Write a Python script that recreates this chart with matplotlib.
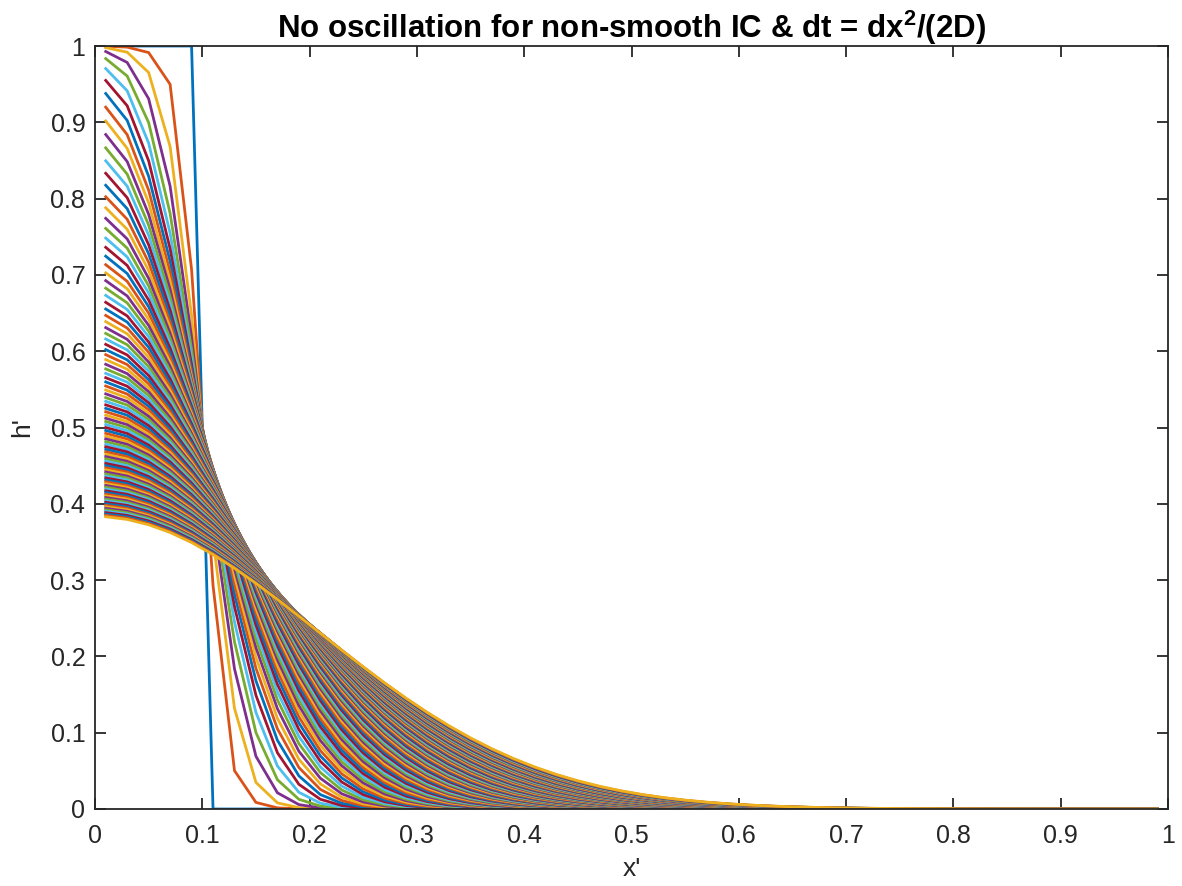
import numpy as np
import matplotlib
matplotlib.use("Agg")
import matplotlib.pyplot as plt

# ---- data ----
x_grid = [0.01 + 0.02 * i for i in range(50)]          # nodes at 0.01, 0.03, ..., 0.99
h_initial = [1, 1, 1, 1, 1] + [0] * 45                  # step IC: 1 for x' < 0.1, 0 beyond
r_ratio = 0.5                                           # D dt / dx^2  (dt = dx^2/(2D))
n_steps = 100                                           # time steps shown (101 curves)
title_text = "No oscillation for non-smooth IC & dt = dx$^{\\mathbf{2}}$/(2D)"
x_ticks = [0, 0.1, 0.2, 0.3, 0.4, 0.5, 0.6, 0.7, 0.8, 0.9, 1]
y_ticks = [0, 0.1, 0.2, 0.3, 0.4, 0.5, 0.6, 0.7, 0.8, 0.9, 1]
tick_labels = ["0", "0.1", "0.2", "0.3", "0.4", "0.5", "0.6", "0.7", "0.8", "0.9", "1"]

colors = [(0, 0.447, 0.741), (0.85, 0.325, 0.098), (0.929, 0.694, 0.125),
          (0.494, 0.184, 0.556), (0.466, 0.674, 0.188), (0.301, 0.745, 0.933),
          (0.635, 0.078, 0.184)]

# ---- Crank-Nicolson march (no-flux left, zero right) ----
x = np.array(x_grid)
n = len(x)
r = r_ratio
L = np.zeros((n, n))
for i in range(n):
    if i > 0:
        L[i, i - 1] += 1
    else:
        L[i, i] += 1          # mirror ghost node (no flux)
    L[i, i] -= 2
    if i < n - 1:
        L[i, i + 1] += 1
A = np.eye(n) - 0.5 * r * L
B = np.eye(n) + 0.5 * r * L
h = np.array(h_initial, dtype=float)
profiles = [h.copy()]
for k in range(n_steps):
    h = np.linalg.solve(A, B @ h)
    profiles.append(h.copy())

plt.rcParams['font.family'] = ['Liberation Sans', 'DejaVu Sans']
plt.rcParams['mathtext.fontset'] = 'custom'
plt.rcParams['mathtext.bf'] = 'Liberation Sans:bold'
plt.rcParams['mathtext.rm'] = 'Liberation Sans'
fig = plt.figure(figsize=(11.82, 8.86), dpi=100)
ax = fig.add_axes([95 / 1182, 1 - 809 / 886, (1168 - 95) / 1182, (809 - 46) / 886])
for k, p in enumerate(profiles):
    ax.plot(x, p, color=colors[k % 7], lw=2.0, solid_joinstyle='miter')

ax.set_xlim(0, 1)
ax.set_ylim(0, 1)
ax.set_xticks(x_ticks)
ax.set_xticklabels(tick_labels)
ax.set_yticks(y_ticks)
ax.set_yticklabels(tick_labels)
axc = (0.15, 0.15, 0.15)
for s in ax.spines.values():
    s.set_color(axc)
    s.set_linewidth(1.3)
ax.tick_params(direction='in', length=8, width=1.3, colors=axc, labelsize=18,
               top=True, right=True, pad=7)
ax.tick_params(axis='x', pad=11)
ax.set_xlabel("x'", fontsize=19, color=axc, labelpad=6)
ax.set_ylabel("h'", fontsize=19, color=axc, labelpad=12)
ax.set_title(title_text, fontsize=22.5, fontweight='bold', color='black', pad=6)

fig.savefig("out.png", dpi=100)
